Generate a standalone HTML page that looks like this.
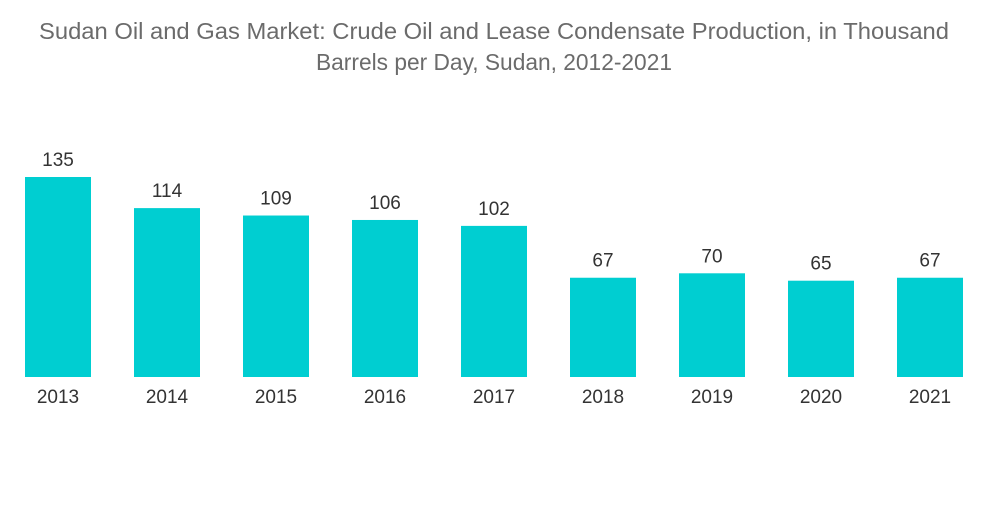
<!DOCTYPE html>
<html><head><meta charset="utf-8"><style>
body{margin:0;background:#fff;width:1000px;height:504px;overflow:hidden;font-family:"Liberation Sans",sans-serif}
</style></head><body>
<svg width="1000" height="504">
<text x="494" y="39" text-anchor="middle" font-size="23" textLength="910" lengthAdjust="spacingAndGlyphs" fill="#6b6b6b">Sudan Oil and Gas Market: Crude Oil and Lease Condensate Production, in Thousand</text>
<text x="494" y="70" text-anchor="middle" font-size="23" textLength="356" lengthAdjust="spacingAndGlyphs" fill="#6b6b6b">Barrels per Day, Sudan, 2012-2021</text>
<g id="bars"></g>
</svg>
<script>
const categories=["2013","2014","2015","2016","2017","2018","2019","2020","2021"];
const values=[135,114,109,106,102,67,70,65,67];
const g=document.getElementById('bars');
const ns='http://www.w3.org/2000/svg';
const base=377, scale=200/135, x0=58, step=109, bw=66;
const xs=i=>x0+i*step, ys=v=>base-v*scale;
categories.forEach((c,i)=>{
 const r=document.createElementNS(ns,'rect');
 r.setAttribute('x',xs(i)-bw/2);r.setAttribute('y',ys(values[i]));
 r.setAttribute('width',bw);r.setAttribute('height',base-ys(values[i]));
 r.setAttribute('fill','#00ced1');
 
 
 g.appendChild(r);
 const t=document.createElementNS(ns,'text');
 t.setAttribute('x',xs(i));t.setAttribute('y',ys(values[i])-11);
 t.setAttribute('text-anchor','middle');t.setAttribute('font-size','19');t.setAttribute('fill','#333');
 t.textContent=values[i];
 
 
 g.appendChild(t);
 const l=document.createElementNS(ns,'text');
 l.setAttribute('x',xs(i));l.setAttribute('y',403);
 l.setAttribute('text-anchor','middle');l.setAttribute('font-size','19');l.setAttribute('fill','#333');
 l.textContent=c;
 
 
 g.appendChild(l);
});
</script>
</body></html>
